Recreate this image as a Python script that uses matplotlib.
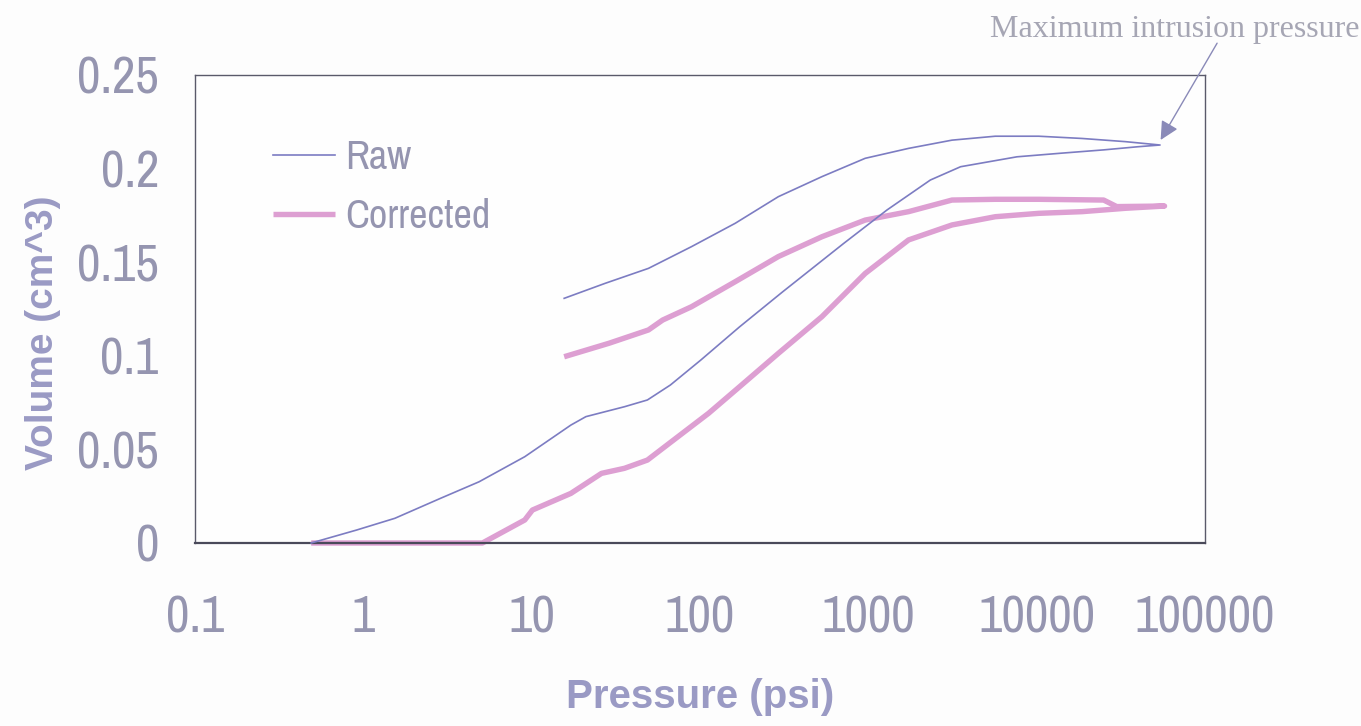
import matplotlib
matplotlib.use("Agg")
import matplotlib.pyplot as plt

# Mercury porosimetry loop: intrusion (rising pressure) then extrusion (falling pressure)
raw_intrusion_p = [0.49, 0.91, 1.54, 2.88, 4.87, 9.1, 17.1, 21, 35.6, 48.7, 66.7, 101,
                   172, 310, 713, 1291, 2336, 3532, 7640, 13840, 25000, 40200, 54100]
raw_intrusion_v = [0.0, 0.0069, 0.0132, 0.0239, 0.0327, 0.0461, 0.063, 0.0675, 0.0728,
                   0.0764, 0.0844, 0.0977, 0.1155, 0.1342, 0.160, 0.1779, 0.1939, 0.201,
                   0.2063, 0.2082, 0.210, 0.2117, 0.2126]
raw_extrusion_p = [54100, 33650, 18600, 10280, 5680, 3140, 1734, 958, 530, 292, 162, 89,
                   49.4, 27.3, 15.6]
raw_extrusion_v = [0.2126, 0.2144, 0.2161, 0.2173, 0.2173, 0.2152, 0.2108, 0.2055, 0.1957,
                   0.185, 0.1708, 0.1583, 0.1467, 0.1387, 0.1307]

corr_intrusion_p = [0.49, 5.1, 9.1, 10.1, 17.1, 26, 35.6, 48.7, 74, 112.5, 172, 292, 530,
                    958, 1734, 3140, 5680, 10280, 18600, 33650, 57500]
corr_intrusion_v = [0.0, 0.0, 0.0123, 0.0176, 0.0265, 0.0372, 0.0399, 0.0443, 0.0568,
                    0.0693, 0.0835, 0.1013, 0.1209, 0.144, 0.1619, 0.1699, 0.1743, 0.1761,
                    0.177, 0.1788, 0.180]
corr_extrusion_p = [57500, 29900, 25000, 10280, 5680, 3140, 1734, 958, 530, 292, 162, 89,
                    60, 49.4, 28.8, 15.6]
corr_extrusion_v = [0.180, 0.1797, 0.1832, 0.1836, 0.1836, 0.1832, 0.177, 0.1725, 0.1636,
                    0.153, 0.1396, 0.1262, 0.1191, 0.1138, 0.1067, 0.0995]

x_ticks = [0.1, 1, 10, 100, 1000, 10000, 100000]
x_tick_labels = ["0.1", "1", "10", "100", "1000", "10000", "100000"]
y_ticks = [0, 0.05, 0.1, 0.15, 0.2, 0.25]
y_tick_labels = ["0", "0.05", "0.1", "0.15", "0.2", "0.25"]

RAW_COLOR = "#7c7cc2"
CORR_COLOR = "#dd9fd2"
TEXT_COLOR = "#9595b0"
NARROW = ["Liberation Sans Narrow", "Arial Narrow", "Archivo Narrow", "PT Sans Narrow",
          "Roboto Condensed", "Open Sans Condensed", "Liberation Sans"]

fig = plt.figure(figsize=(13.61, 7.26), dpi=100, facecolor="#fdfdfd")
ax = fig.add_axes([195 / 1361, 1 - 543 / 726, (1205 - 195) / 1361, (543 - 75) / 726])
ax.set_facecolor("#fefefe")

ax.plot(raw_intrusion_p + raw_extrusion_p, raw_intrusion_v + raw_extrusion_v,
        color=RAW_COLOR, lw=1.2, label="Raw", clip_on=False, zorder=3)
ax.plot(corr_intrusion_p + corr_extrusion_p, corr_intrusion_v + corr_extrusion_v,
        color=CORR_COLOR, lw=3.9, label="Corrected", clip_on=False, zorder=2,
        solid_capstyle="butt")

ax.set_xscale("log")
ax.set_xlim(0.1, 100000)
ax.set_ylim(0, 0.25)
ax.set_xticks(x_ticks)
ax.set_xticklabels(x_tick_labels)
ax.set_yticks(y_ticks)
ax.set_yticklabels(y_tick_labels)
ax.minorticks_off()
ax.tick_params(axis="both", length=0, colors=TEXT_COLOR, labelsize=37)
ax.tick_params(axis="x", pad=37)
ax.tick_params(axis="y", pad=26)
for lab in ax.get_xticklabels() + ax.get_yticklabels():
    lab.set_family(NARROW)

for side in ["top", "left", "right"]:
    ax.spines[side].set_color("#5a5a6a")
    ax.spines[side].set_linewidth(1.0)
ax.spines["bottom"].set_color("#4a4a5a")
ax.spines["bottom"].set_linewidth(1.6)

ax.set_xlabel("Pressure (psi)", fontsize=29, fontweight="bold", color="#9a9ac4",
              family=["Liberation Sans", "DejaVu Sans"], labelpad=0)
ax.xaxis.set_label_coords(0.5, (543 - 697) / 468, transform=ax.transAxes)
ax.xaxis.label.set_va("center")
ax.set_ylabel("Volume (cm^3)", fontsize=28, fontweight="bold", color="#9a9ac4",
              family=["Liberation Sans", "DejaVu Sans"])
ax.yaxis.set_label_coords((43 - 195) / 1010, (543 - 333) / 468, transform=ax.transAxes)
ax.yaxis.label.set_va("center")

leg = ax.legend(loc="upper left", bbox_to_anchor=(273 / 1361, 1 - 139 / 726),
                bbox_transform=fig.transFigure, frameon=False, borderpad=0,
                borderaxespad=0, handlelength=1.55, handletextpad=0.25,
                labelspacing=0.55, prop={"family": NARROW, "size": 29})
for t in leg.get_texts():
    t.set_color(TEXT_COLOR)

ax.annotate("", xy=(54500, 0.2153), xytext=(118000, 0.267),
            arrowprops=dict(arrowstyle="-|>", color="#8a8ab8", lw=1.0,
                            mutation_scale=28, shrinkA=0, shrinkB=0),
            annotation_clip=False)
fig.text(990 / 1361, 1 - 30 / 726, "Maximum intrusion pressure",
         family=["Liberation Serif", "DejaVu Serif"], fontsize=23,
         color="#a6a6b4", va="center", ha="left")

fig.savefig("out.png", dpi=100, facecolor=fig.get_facecolor())
